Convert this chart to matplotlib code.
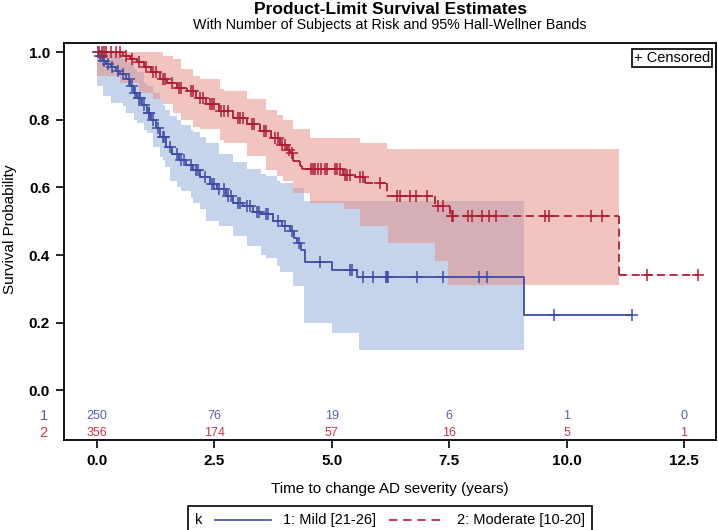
import numpy as np
import matplotlib
matplotlib.use("Agg")
import matplotlib.pyplot as plt
from matplotlib.lines import Line2D
from matplotlib.collections import LineCollection
from matplotlib.offsetbox import AnchoredOffsetbox, HPacker, TextArea, DrawingArea

plt.rcParams['font.family'] = ['Liberation Sans', 'DejaVu Sans']

# Kaplan-Meier steps, group 1 (Mild)
mild_t = [0.0, 0.05, 0.12, 0.2, 0.3, 0.4, 0.5, 0.63, 0.7, 0.78, 0.85, 0.95, 1.06, 1.15,
          1.25, 1.35, 1.48, 1.6, 1.75, 1.9, 2.05, 2.2, 2.4, 2.55, 2.75, 2.9, 3.1, 3.33,
          3.5, 3.75, 3.95, 4.11, 4.2, 4.25, 4.35, 4.43, 5.0, 5.53, 9.09, 11.39]
mild_s = [1.0, 0.99, 0.975, 0.965, 0.955, 0.945, 0.935, 0.92, 0.90, 0.88, 0.865, 0.845, 0.82, 0.80,
          0.775, 0.75, 0.72, 0.70, 0.68, 0.665, 0.65, 0.63, 0.61, 0.594, 0.575, 0.555, 0.545, 0.528,
          0.52, 0.50, 0.485, 0.47, 0.45, 0.436, 0.416, 0.38, 0.357, 0.335, 0.224, 0.224]
mild_cens = [0.02, 0.06, 0.1, 0.16, 0.24, 0.33, 0.45, 0.56, 0.68, 0.74, 0.82, 0.9, 0.92, 1.0,
             1.1, 1.12, 1.2, 1.3, 1.4, 1.42, 1.55, 1.7, 1.8, 1.85, 2.0, 2.1, 2.15, 2.3, 2.45,
             2.5, 2.6, 2.7, 2.8, 2.85, 3.0, 3.05, 3.2, 3.25, 3.4, 3.45, 3.6, 3.65, 3.85, 4.0,
             4.15, 4.3, 4.75, 5.39, 5.43, 5.67, 5.88, 6.15, 6.17, 6.19, 6.81, 7.36, 8.14,
             8.3, 9.73, 11.39]

# Kaplan-Meier steps, group 2 (Moderate)
mod_t = [0.0, 0.56, 0.7, 0.85, 1.0, 1.15, 1.34, 1.5, 1.7, 1.91, 2.1, 2.33, 2.6, 2.9, 3.2,
         3.47, 3.7, 3.9, 4.04, 4.11, 4.18, 4.32, 4.36, 5.25, 5.5, 5.7, 6.17, 7.2, 7.52,
         11.12, 12.8]
mod_s = [1.0, 0.99, 0.98, 0.97, 0.955, 0.94, 0.92, 0.91, 0.895, 0.885, 0.865, 0.846, 0.826,
         0.806, 0.787, 0.767, 0.745, 0.725, 0.712, 0.703, 0.678, 0.663, 0.653, 0.638, 0.63,
         0.612, 0.574, 0.545, 0.515, 0.342, 0.342]
mod_cens = [0.05, 0.1, 0.15, 0.2, 0.3, 0.4, 0.5, 0.62, 0.75, 0.9, 1.05, 1.2, 1.25, 1.4, 1.45,
            1.6, 1.75, 1.8, 2.0, 2.05, 2.2, 2.25, 2.4, 2.45, 2.5, 2.65, 2.7, 2.8, 3.0, 3.05,
            3.1, 3.3, 3.35, 3.55, 3.6, 3.8, 3.85, 3.95, 4.0, 4.08, 4.15, 4.55, 4.6, 4.65,
            4.7, 4.78, 4.85, 4.9, 5.07, 5.12, 5.17, 5.28, 5.33, 5.39, 5.6, 5.67, 6.03, 6.38,
            6.45, 6.66, 6.8, 7.02, 7.27, 7.37, 7.55, 7.58, 7.9, 7.99, 8.19, 8.35, 8.49, 9.54,
            9.63, 10.51, 10.76, 11.72, 12.8]

# Hall-Wellner bands
mild_bt = [0.0, 0.13, 0.3, 0.56, 0.63, 0.8, 0.85, 1.0, 1.06, 1.2, 1.34, 1.41, 1.45, 1.55,
           1.7, 1.8, 2.0, 2.05, 2.2, 2.33, 2.6, 2.9, 3.19, 3.5, 3.61, 3.83, 3.9, 4.18, 4.4,
           5.0, 5.57, 9.09]
mild_lo = [0.90, 0.87, 0.85, 0.84, 0.82, 0.80, 0.79, 0.77, 0.76, 0.72, 0.69, 0.68, 0.66, 0.62,
           0.60, 0.59, 0.57, 0.555, 0.535, 0.50, 0.485, 0.455, 0.426, 0.40, 0.39, 0.367, 0.35,
           0.308, 0.20, 0.169, 0.12, 0.12]
mild_hi = [1.0, 1.0, 1.0, 0.98, 0.97, 0.95, 0.94, 0.91, 0.90, 0.88, 0.86, 0.845, 0.83, 0.81,
           0.80, 0.785, 0.77, 0.765, 0.75, 0.73, 0.70, 0.675, 0.653, 0.64, 0.633, 0.62, 0.614,
           0.599, 0.559, 0.559, 0.559, 0.559]

mod_bt = [0.0, 0.5, 0.9, 1.2, 1.41, 1.62, 1.8, 2.05, 2.19, 2.62, 2.7, 3.19, 3.61, 3.83, 3.97,
          4.18, 4.54, 5.26, 5.6, 6.17, 6.2, 7.2, 7.47, 11.12]
mod_lo = [0.93, 0.91, 0.88, 0.86, 0.846, 0.82, 0.80, 0.78, 0.772, 0.74, 0.73, 0.693, 0.65,
          0.633, 0.62, 0.584, 0.555, 0.535, 0.485, 0.485, 0.436, 0.382, 0.31, 0.31]
mod_hi = [1.0, 1.0, 1.0, 1.0, 0.99, 0.979, 0.95, 0.93, 0.92, 0.89, 0.885, 0.86, 0.83, 0.815,
          0.80, 0.772, 0.747, 0.747, 0.732, 0.713, 0.713, 0.713, 0.713, 0.713]

# numbers at risk
risk_times = [0.0, 2.5, 5.0, 7.5, 10.0, 12.5]
risk_mild = [250, 76, 19, 6, 1, 0]
risk_mod = [356, 174, 57, 16, 5, 1]

blue = '#3e4ca6'
red = '#b11c31'
blue_txt = '#5560b8'
red_txt = '#cf3348'
dash = (0, (4.5, 2.5))

fig = plt.figure(figsize=(7.18, 5.30), dpi=100)
ax = fig.add_axes([64 / 718, 1 - 440 / 530, 652 / 718, 397 / 530])

ax.fill_between(mild_bt, mild_lo, mild_hi, step='post', color=(0.55, 0.67, 0.85), alpha=0.5, lw=0)
ax.fill_between(mod_bt, mod_lo, mod_hi, step='post', color=(0.898, 0.546, 0.506), alpha=0.5, lw=0)

ax.step(mild_t, mild_s, where='post', color=blue, lw=1.3)


# dashed step curve drawn piece by piece so each step restarts the dash pattern (like SAS)
def step_segments(t, s):
    segs = []
    for i in range(len(t) - 1):
        segs.append([(t[i], s[i]), (t[i + 1], s[i])])
        if s[i + 1] != s[i]:
            segs.append([(t[i + 1], s[i]), (t[i + 1], s[i + 1])])
    return segs


ax.add_collection(LineCollection(step_segments(mod_t, mod_s), colors=red, linewidths=1.3,
                                 linestyles=[dash]))


def surv_at(times, t, s):
    idx = np.searchsorted(t, times, side='right') - 1
    return np.asarray(s)[idx]


ax.plot(mild_cens, surv_at(mild_cens, mild_t, mild_s), ls='none', marker='+',
        ms=8, mew=1.1, color=blue)
ax.plot(mod_cens, surv_at(mod_cens, mod_t, mod_s), ls='none', marker='+',
        ms=8, mew=1.1, color=red)

# at-risk table
for t, a, b in zip(risk_times, risk_mild, risk_mod):
    ax.text(t, -0.075, str(a), color=blue_txt, ha='center', va='center', fontsize=9)
    ax.text(t, -0.127, str(b), color=red_txt, ha='center', va='center', fontsize=9)
ax.text(-1.13, -0.075, '1', color=blue_txt, ha='center', va='center', fontsize=10.5, clip_on=False)
ax.text(-1.13, -0.127, '2', color=red_txt, ha='center', va='center', fontsize=10.5, clip_on=False)

ax.set_xlim(-0.70, 13.18)
ax.set_ylim(-0.147, 1.027)
ax.set_xticks(risk_times)
ax.set_xticklabels(['0.0', '2.5', '5.0', '7.5', '10.0', '12.5'])
ax.set_yticks([0, 0.2, 0.4, 0.6, 0.8, 1.0])
ax.set_yticklabels(['0.0', '0.2', '0.4', '0.6', '0.8', '1.0'])
ax.tick_params(length=6, width=1.2, labelsize=11, pad=4)
for lab in ax.get_xticklabels() + ax.get_yticklabels():
    lab.set_fontweight('bold')
for sp in ax.spines.values():
    sp.set_linewidth(1.3)

ax.set_xlabel('Time to change AD severity (years)', fontsize=11, labelpad=10)
ax.set_ylabel('Survival Probability', fontsize=11)
ax.yaxis.set_label_coords(-0.072, 0.53)

ax.text(0.991, 0.98, '+ Censored', transform=ax.transAxes, ha='right', va='top', fontsize=10.5,
        bbox=dict(boxstyle='square,pad=0.15', fc='white', ec='black', lw=1.2))

fig.text(390 / 718, 1 - 10 / 530, 'Product-Limit Survival Estimates', ha='center', va='center',
         fontsize=12.5, fontweight='bold')
fig.text(390 / 718, 1 - 25 / 530, 'With Number of Subjects at Risk and 95% Hall-Wellner Bands',
         ha='center', va='center', fontsize=10.3)


# bottom legend
def sample(color, ls):
    da = DrawingArea(40, 8)
    da.add_artist(Line2D([0, 40], [4, 4], color=color, ls=ls, lw=1.2))
    return da


tp = dict(fontsize=10.5)
row = HPacker(children=[TextArea('k', textprops=tp), sample(blue, '-'),
                        TextArea('1: Mild [21-26]', textprops=tp),
                        sample(red, (0, (5, 3.5))),
                        TextArea('2: Moderate [10-20]', textprops=tp)],
              align='center', pad=0, sep=9)
leg = AnchoredOffsetbox(loc='upper center', child=row, pad=0.25, frameon=True, borderpad=0,
                        bbox_to_anchor=(390 / 718, 1 - 510 / 530),
                        bbox_transform=fig.transFigure)
leg.patch.set_linewidth(1.2)
leg.patch.set_boxstyle('square')
fig.add_artist(leg)

fig.savefig('out.png', dpi=100)
